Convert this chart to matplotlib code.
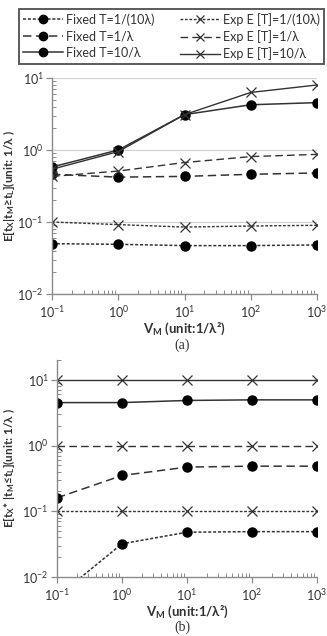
#!/usr/bin/env python3
"""Two log-log panels: E[t_X] vs V_M for fixed and exponential T."""

import math

import matplotlib
matplotlib.use("Agg")
import matplotlib.pyplot as plt
from matplotlib.lines import Line2D
from matplotlib.ticker import LogLocator, FuncFormatter, NullFormatter

plt.rcParams["font.family"] = ["Lato", "DejaVu Sans"]
plt.rcParams["mathtext.fontset"] = "custom"
plt.rcParams["mathtext.rm"] = "Lato"
plt.rcParams["mathtext.bf"] = "Lato:bold"
plt.rcParams["mathtext.it"] = "Lato:italic"

vm = [0.1, 1, 10, 100, 1000]

# panel (a): E[t_X | t_M >= t_L]
a_fixed_01 = [0.050, 0.049, 0.047, 0.047, 0.048]
a_exp_01 = [0.100, 0.092, 0.085, 0.088, 0.090]
a_fixed_1 = [0.46, 0.42, 0.43, 0.46, 0.48]
a_exp_1 = [0.43, 0.51, 0.67, 0.81, 0.87]
a_fixed_10 = [0.58, 1.0, 3.1, 4.25, 4.55]
a_exp_10 = [0.54, 0.95, 3.1, 6.3, 8.0]

# panel (b): E[t_X* | t_M <= t_L]
b_fixed_01 = [0.005, 0.032, 0.048, 0.049, 0.049]
b_exp_01 = [0.1, 0.1, 0.1, 0.1, 0.1]
b_fixed_1 = [0.16, 0.35, 0.47, 0.485, 0.485]
b_exp_1 = [1.0, 1.0, 1.0, 1.0, 1.0]
b_fixed_10 = [4.5, 4.5, 4.85, 4.95, 4.95]
b_exp_10 = [10, 10, 10, 10, 10]

legend_labels = [
    "Fixed T=1/(10λ)", "Fixed T=1/λ", "Fixed T=10/λ",
    "Exp E [T]=1/(10λ)", "Exp E [T]=1/λ", "Exp E [T]=10/λ",
]

LC = "#333333"
TC = "#333333"
STYLES = {
    "dot": (0, (2.0, 1.2)),
    "dash": (0, (5.5, 3.0)),
    "solid": "-",
}


def fmt_pow(v, pos):
    e = int(round(math.log10(v)))
    return r"$10^{%d}$" % e


def style_axes(ax, ylo, yhi, grid):
    ax.set_xscale("log")
    ax.set_yscale("log")
    ax.set_xlim(0.1, 1000)
    ax.set_ylim(ylo, yhi)
    for s in ("top", "right"):
        ax.spines[s].set_visible(False)
    for s in ("left", "bottom"):
        ax.spines[s].set_color("#8a8a8a")
        ax.spines[s].set_linewidth(1.0)
    ax.xaxis.set_major_locator(LogLocator(base=10, numticks=10))
    ax.yaxis.set_major_locator(LogLocator(base=10, numticks=10))
    ax.xaxis.set_minor_locator(LogLocator(base=10, subs=range(2, 10), numticks=10))
    ax.yaxis.set_minor_locator(LogLocator(base=10, subs=range(2, 10), numticks=10))
    ax.xaxis.set_major_formatter(FuncFormatter(fmt_pow))
    ax.yaxis.set_major_formatter(FuncFormatter(fmt_pow))
    ax.xaxis.set_minor_formatter(NullFormatter())
    ax.yaxis.set_minor_formatter(NullFormatter())
    ax.tick_params(which="major", direction="out", length=4, width=0.9,
                   color="#8a8a8a", labelsize=9, labelcolor=TC, pad=3)
    ax.tick_params(axis="y", which="major", pad=2)
    ax.tick_params(which="minor", direction="in", length=3, width=0.7,
                   color="#8a8a8a")
    if grid:
        ax.grid(True, which="major", axis="y", color="#d0d0d0", linewidth=0.9)
        ax.set_axisbelow(True)
    ax.set_xlabel("V$_\\mathbf{M}$ (unit:1/λ²)", fontsize=9.5, fontweight="bold",
                  color=TC, labelpad=0.5)


def draw(ax, series):
    for ys, ls, mk in series:
        if mk == "o":
            ax.plot(vm, ys, linestyle=STYLES[ls], color=LC, lw=1.1,
                    marker="o", ms=6.5, mfc="black", mec="black")
        else:
            ax.plot(vm, ys, linestyle=STYLES[ls], color=LC, lw=1.0,
                    marker="x", ms=6.5, mew=0.9, mec=LC)


fig = plt.figure(figsize=(3.27, 6.36), dpi=100)

ax1 = fig.add_axes([52 / 327, 342 / 636, 265 / 327, 216 / 636])
style_axes(ax1, 0.01, 10, grid=True)
draw(ax1, [
    (a_fixed_01, "dot", "o"), (a_exp_01, "dot", "x"),
    (a_fixed_1, "dash", "o"), (a_exp_1, "dash", "x"),
    (a_fixed_10, "solid", "o"), (a_exp_10, "solid", "x"),
])
ax1.set_ylabel("E[t$_\\mathbf{X}$|t$_\\mathbf{M}$≥t$_\\mathbf{L}$](unit: 1/λ )",
               fontsize=8.5, fontweight="bold", color=TC, labelpad=0)
fig.text(182 / 327, 1 - 345 / 636, "(a)", ha="center", va="center",
         fontsize=10, family=["Liberation Serif", "DejaVu Serif"], color=TC)

ax2 = fig.add_axes([57 / 327, 59 / 636, 260 / 327, 217 / 636])
style_axes(ax2, 0.01, 20, grid=False)
draw(ax2, [
    (b_fixed_01, "dot", "o"), (b_exp_01, "dot", "x"),
    (b_fixed_1, "dash", "o"), (b_exp_1, "dash", "x"),
    (b_fixed_10, "solid", "o"), (b_exp_10, "solid", "x"),
])
ax2.set_ylabel("E[t$_\\mathbf{X}$* |t$_\\mathbf{M}$≤t$_\\mathbf{L}$](unit: 1/λ )",
               fontsize=8.5, fontweight="bold", color=TC, labelpad=4)
fig.text(182 / 327, 1 - 627 / 636, "(b)", ha="center", va="center",
         fontsize=10, family=["Liberation Serif", "DejaVu Serif"], color=TC)

# legend: fixed in left column, exp in right column
handles = []
for ls in ("dot", "dash", "solid"):
    handles.append(Line2D([], [], linestyle=STYLES[ls], color=LC, lw=1.1,
                          marker="o", ms=6, mfc="black", mec="black"))
for ls in ("dot", "dash", "solid"):
    handles.append(Line2D([], [], linestyle=STYLES[ls], color=LC, lw=1.0,
                          marker="x", ms=6, mew=0.9, mec=LC))
leg = fig.legend(handles, legend_labels, ncol=2, loc="upper left",
                 bbox_to_anchor=(19 / 327, 1 - 64 / 636, 305 / 327, 55 / 636),
                 mode="expand", fontsize=9, frameon=True, fancybox=False,
                 handlelength=3.2, handletextpad=0.3, columnspacing=0.8,
                 labelspacing=0.35, borderaxespad=0, borderpad=0.3)
leg.get_frame().set_edgecolor("#222222")
leg.get_frame().set_linewidth(1.3)
for t in leg.get_texts():
    t.set_color(TC)

fig.savefig("out.png", dpi=100)
